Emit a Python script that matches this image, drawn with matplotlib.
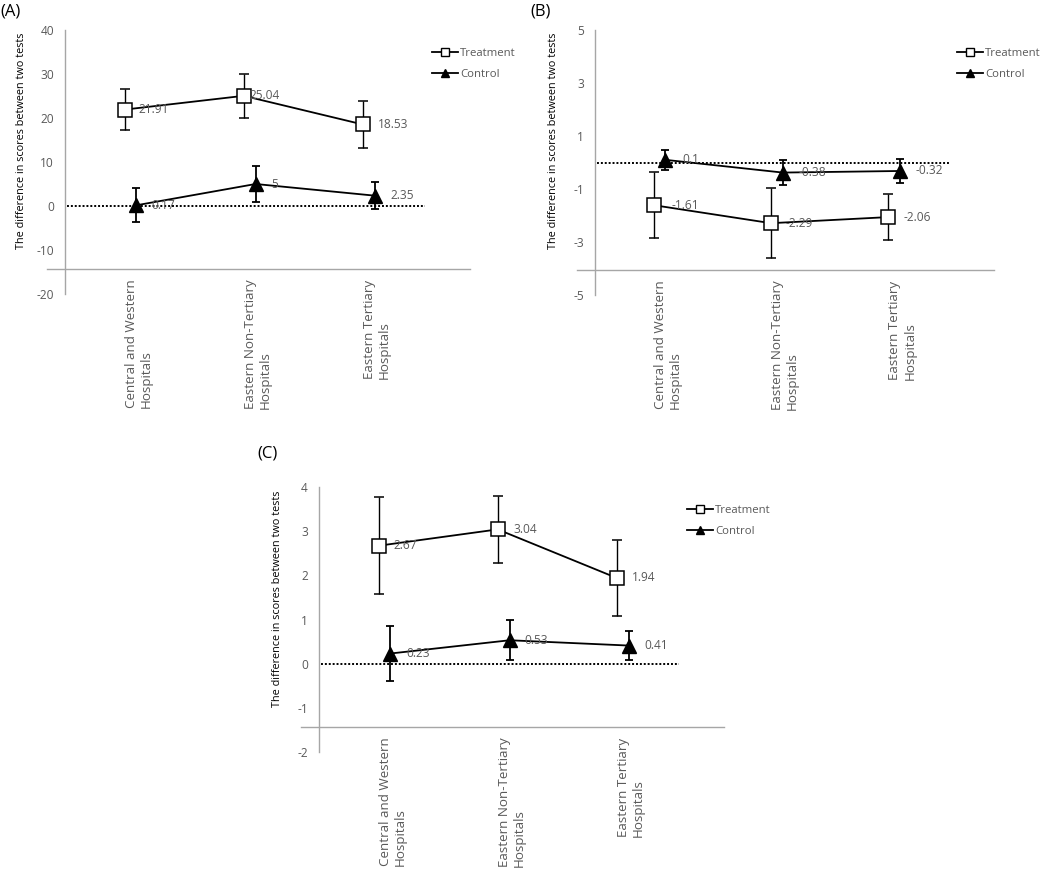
import matplotlib
matplotlib.use("Agg")
import matplotlib.pyplot as plt
from matplotlib.lines import Line2D

plt.rcParams['font.family'] = ['Open Sans', 'DejaVu Sans']
plt.rcParams['axes.unicode_minus'] = False

GREY_TXT = "#595959"
GREY_AX = "#A6A6A6"

categories = ["Central and Western\nHospitals",
              "Eastern Non-Tertiary\nHospitals",
              "Eastern Tertiary\nHospitals"]
series_names = ["Treatment", "Control"]
ylabel = "The difference in scores between two tests"

# panel A
a_treat = [21.91, 25.04, 18.53]
a_treat_err = [4.7, 5.0, 5.3]
a_ctrl = [0.17, 5, 2.35]
a_ctrl_err = [3.9, 4.1, 3.0]
a_ticks = [-20, -10, 0, 10, 20, 30, 40]

# panel B
b_treat = [-1.61, -2.29, -2.06]
b_treat_err = [1.25, 1.32, 0.87]
b_ctrl = [0.1, -0.38, -0.32]
b_ctrl_err = [0.38, 0.47, 0.46]
b_ticks = [-5, -3, -1, 1, 3, 5]

# panel C
c_treat = [2.67, 3.04, 1.94]
c_treat_err = [1.1, 0.75, 0.87]
c_ctrl = [0.23, 0.53, 0.41]
c_ctrl_err = [0.63, 0.45, 0.33]
c_ticks = [-2, -1, 0, 1, 2, 3, 4]

W, H = 1049, 872
fig = plt.figure(figsize=(W / 100, H / 100), dpi=100)


def px_axes(left, top, right, bottom):
    return fig.add_axes([left / W, 1 - bottom / H, (right - left) / W, (bottom - top) / H])


def draw_panel(ax, treat, treat_err, ctrl, ctrl_err, ticks, label_offsets):
    n = len(categories)
    xt = [i - 0.12 for i in range(n)]
    xc = [i - 0.02 for i in range(n)]
    ax.set_xlim(-0.62, 2.78)
    ax.set_ylim(ticks[0], ticks[-1])

    ax.axhline(0, xmin=0.005, xmax=0.89, color="black", lw=1.4,
               linestyle=(0, (1, 1)), zorder=1)

    ax.errorbar(xt, treat, yerr=treat_err, color="black", lw=1.3,
                elinewidth=1.0, capsize=3.5, capthick=1.0, marker="s",
                markersize=10, markerfacecolor="white", markeredgecolor="black",
                markeredgewidth=1.1, zorder=3)
    ax.errorbar(xc, ctrl, yerr=ctrl_err, color="black", lw=1.3,
                elinewidth=1.3, capsize=3.0, capthick=1.3, marker="^",
                markersize=10, markerfacecolor="black", markeredgecolor="black",
                zorder=3)

    for j, (x, v) in enumerate(zip(xt, treat)):
        ax.annotate(f"{v:g}", (x, v), xytext=(label_offsets[0][j], 0),
                    textcoords="offset points", ha="left", va="center",
                    fontsize=8.6, color=GREY_TXT, zorder=4)
    for j, (x, v) in enumerate(zip(xc, ctrl)):
        ax.annotate(f"{v:g}", (x, v), xytext=(label_offsets[1][j], 0),
                    textcoords="offset points", ha="left", va="center",
                    fontsize=8.6, color=GREY_TXT, zorder=4)

    for s in ["top", "right", "bottom"]:
        ax.spines[s].set_visible(False)
    ax.spines["left"].set_color(GREY_AX)
    ax.spines["left"].set_linewidth(1.0)
    ax.set_yticks(ticks)
    ax.set_yticklabels([str(t) for t in ticks])
    ax.tick_params(axis="y", length=0, pad=8, labelsize=8.6, labelcolor=GREY_TXT)
    ax.set_xticks([])
    ax.patch.set_visible(False)

    # category axis line, drawn above the bottom of the value axis
    ax.plot([-0.045, 1.0], [0.093, 0.093], transform=ax.transAxes,
            color=GREY_AX, lw=1.0, clip_on=False)
    for i, cat in enumerate(categories):
        ax.text(i, 0.055, cat, transform=ax.get_xaxis_transform(), rotation=90,
                ha="center", va="top", multialignment="left", fontsize=9.6,
                color=GREY_TXT)


def draw_legend(ax, left, top):
    handles = [Line2D([], [], color="black", lw=1.3, marker="s", markersize=5.5,
                      markerfacecolor="white", markeredgewidth=1.0),
               Line2D([], [], color="black", lw=1.3, marker="^", markersize=5.5,
                      markerfacecolor="black")]
    leg = ax.legend(handles, series_names, loc="upper left",
                    bbox_to_anchor=(left / W, 1 - top / H), bbox_transform=fig.transFigure,
                    frameon=False, fontsize=8.2, handlelength=2.3, handletextpad=0.15,
                    labelspacing=0.9, borderpad=0, borderaxespad=0)
    for t in leg.get_texts():
        t.set_color(GREY_TXT)


ax_a = px_axes(65, 30, 470, 294)
draw_panel(ax_a, a_treat, a_treat_err, a_ctrl, a_ctrl_err, a_ticks,
           [[10, 4.5, 11], [11, 11, 11]])
draw_legend(ax_a, 432, 48)

ax_b = px_axes(595, 30, 994, 295)
draw_panel(ax_b, b_treat, b_treat_err, b_ctrl, b_ctrl_err, b_ticks,
           [[12.5, 10.5, 11], [12.5, 11, 11]])
draw_legend(ax_b, 957, 48)

ax_c = px_axes(319, 487, 724, 752)
draw_panel(ax_c, c_treat, c_treat_err, c_ctrl, c_ctrl_err, c_ticks,
           [[11, 11, 11], [11.5, 11, 11]])
draw_legend(ax_c, 687, 505)

fig.text(22 / W, 1 - 141 / H, ylabel, rotation=90, ha="center", va="center",
         fontsize=7.8, color="black")
fig.text(553 / W, 1 - 141 / H, ylabel, rotation=90, ha="center", va="center",
         fontsize=7.8, color="black")
fig.text(277 / W, 1 - 599 / H, ylabel, rotation=90, ha="center", va="center",
         fontsize=7.8, color="black")

fig.text(0 / W, 1 - 12 / H, "(A)", ha="left", va="center", fontsize=12)
fig.text(530 / W, 1 - 12 / H, "(B)", ha="left", va="center", fontsize=12)
fig.text(257 / W, 1 - 453 / H, "(C)", ha="left", va="center", fontsize=12)

fig.savefig("out.png", dpi=100)
